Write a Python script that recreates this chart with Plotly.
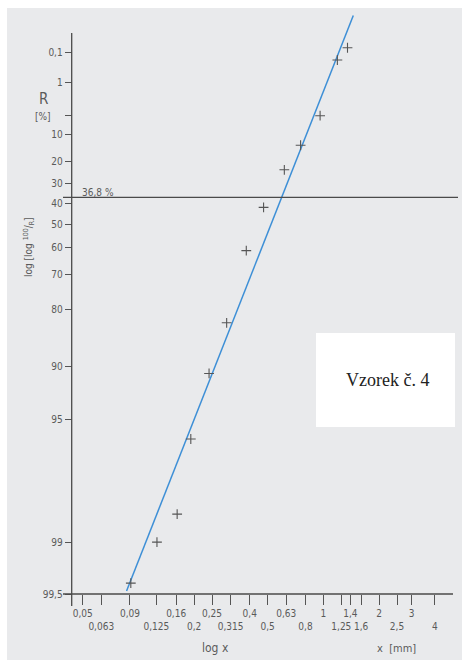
import numpy as np
import plotly.graph_objects as go

# ---------------- data ----------------
r_ticks = [0.1, 1, 5, 10, 20, 30, 40, 50, 60, 70, 80, 90, 95, 99, 99.5]
r_labels = ["0,1", "1", "", "10", "20", "30", "40", "50", "60", "70", "80", "90", "95", "99", "99,5"]

x_ticks = [0.05, 0.063, 0.09, 0.125, 0.16, 0.2, 0.25, 0.315, 0.4, 0.5,
           0.63, 0.8, 1, 1.25, 1.4, 1.6, 2, 2.5, 3, 4]
x_labels = ["0,05", "0,063", "0,09", "0,125", "0,16", "0,2", "0,25", "0,315", "0,4", "0,5",
            "0,63", "0,8", "1", "1,25", "1,4", "1,6", "2", "2,5", "3", "4"]

sample_x = [0.091, 0.126, 0.162, 0.192, 0.241, 0.30, 0.383, 0.475, 0.615, 0.753, 0.96, 1.19, 1.35]
sample_R = [99.42, 99.0, 98.55, 96.1, 90.9, 82.9, 61.2, 41.7, 23.6, 13.5, 5.13, 0.194, 0.064]

x_char = 0.595      # x' at R = 36.8 %
n_exp = 2.72        # uniformity exponent
fit_x = [0.0863, 1.451]
ref_R = 36.8

# ---------------- helpers ----------------
W, H = 462, 660


def u(R):
    R = np.asarray(R, dtype=float)
    return np.log10(np.log10(100.0 / R))


def px(x):
    return x / W


def py(y):
    return 1 - y / H


fx = np.linspace(fit_x[0], fit_x[1], 60)
fR = 100 * np.exp(-(fx / x_char) ** n_exp)

# axis scale (pixels per unit)
kx, x0px = 185.0, 82.7
ky, y0px = 172.6, 134.8
xrange = [np.log10(0.05) - x0px / kx, np.log10(0.05) + (W - x0px) / kx]
yrange = [(y0px - H) / ky, y0px / ky]

tick_font = dict(family="Liberation Sans Narrow, DejaVu Sans Condensed, Liberation Sans, sans-serif",
                 size=10, color="#5a5a5a")
xt_text = [lab if i % 2 == 0 else "<br>" + lab for i, lab in enumerate(x_labels)]

fig = go.Figure()
fig.add_trace(go.Scatter(x=fx, y=u(fR), mode="lines",
                         line=dict(color="#3d8fd6", width=1.5), hoverinfo="skip"))
fig.add_trace(go.Scatter(x=sample_x, y=u(sample_R), mode="markers",
                         marker=dict(symbol="cross-thin", size=7,
                                     line=dict(color="#555555", width=1.1))))

fig.update_layout(
    width=W, height=H,
    margin=dict(l=0, r=0, t=0, b=0, pad=0),
    paper_bgcolor="white", plot_bgcolor="rgba(0,0,0,0)",
    showlegend=False,
    xaxis=dict(type="log", range=xrange, anchor="free", position=(H - 594) / H,
               tickmode="array", tickvals=x_ticks, ticktext=xt_text,
               ticks="outside", ticklen=10, tickwidth=1, tickcolor="#555555",
               showgrid=False, zeroline=False, showline=False, tickfont=tick_font,
               automargin=False, tickangle=0),
    yaxis=dict(range=yrange, anchor="free", position=px(71.7), side="left",
               tickmode="array", tickvals=list(u(r_ticks)), ticktext=r_labels,
               ticks="outside", ticklen=7, tickwidth=1, tickcolor="#555555",
               showgrid=False, zeroline=False, showline=False, tickfont=tick_font,
               automargin=False),
)

line_col = "#4a4a4a"
shapes = [
    dict(type="rect", xref="paper", yref="paper", x0=px(7), x1=1.01, y0=-0.01, y1=py(8),
         fillcolor="#e9eaec", line=dict(width=0), layer="below"),
    dict(type="rect", xref="paper", yref="paper", x0=px(316), x1=px(455), y0=py(427), y1=py(333),
         fillcolor="white", line=dict(width=0), layer="below"),
    dict(type="line", xref="paper", yref="paper", x0=px(71.7), x1=px(71.7), y0=py(606), y1=py(33),
         line=dict(color=line_col, width=1.3)),
    dict(type="line", xref="paper", yref="paper", x0=px(63), x1=px(453), y0=py(594), y1=py(594),
         line=dict(color=line_col, width=1.3)),
    dict(type="line", xref="paper", yref="y", x0=px(63), x1=px(458), y0=float(u(ref_R)), y1=float(u(ref_R)),
         line=dict(color=line_col, width=1.1)),
]
fig.update_layout(shapes=shapes)

ann_font = dict(family="Liberation Sans Narrow, DejaVu Sans Condensed, Liberation Sans, sans-serif",
                color="#5a5a5a")
anns = [
    dict(text="R", x=px(43), y=py(99), size=15),
    dict(text="[%]", x=px(43), y=py(117), size=10),
    dict(text="36,8 %", x=px(98), y=py(192), size=10),
    dict(text="log x", x=px(215), y=py(648), size=12),
    dict(text="x  [mm]", x=px(396), y=py(648), size=11),
]
for a in anns:
    fig.add_annotation(text=a["text"], x=a["x"], y=a["y"], xref="paper", yref="paper",
                       showarrow=False, xanchor="center", yanchor="middle",
                       font=dict(size=a["size"], **ann_font))
fig.add_annotation(text="log [log <sup>100</sup>/<sub>R</sub>]", x=px(29), y=py(247),
                   xref="paper", yref="paper", showarrow=False, textangle=-90,
                   xanchor="center", yanchor="middle", font=dict(size=10, **ann_font))
fig.add_annotation(text="Vzorek č. 4", x=px(387), y=py(380), xref="paper", yref="paper",
                   showarrow=False, xanchor="center", yanchor="middle",
                   font=dict(family="Liberation Serif, Times New Roman, serif", size=18, color="#222222"))

fig.write_html("out.html",
               config={"displayModeBar": False},
               post_script="document.body.style.margin='0';document.body.style.padding='0';"
                           "document.body.style.overflow='hidden';")
